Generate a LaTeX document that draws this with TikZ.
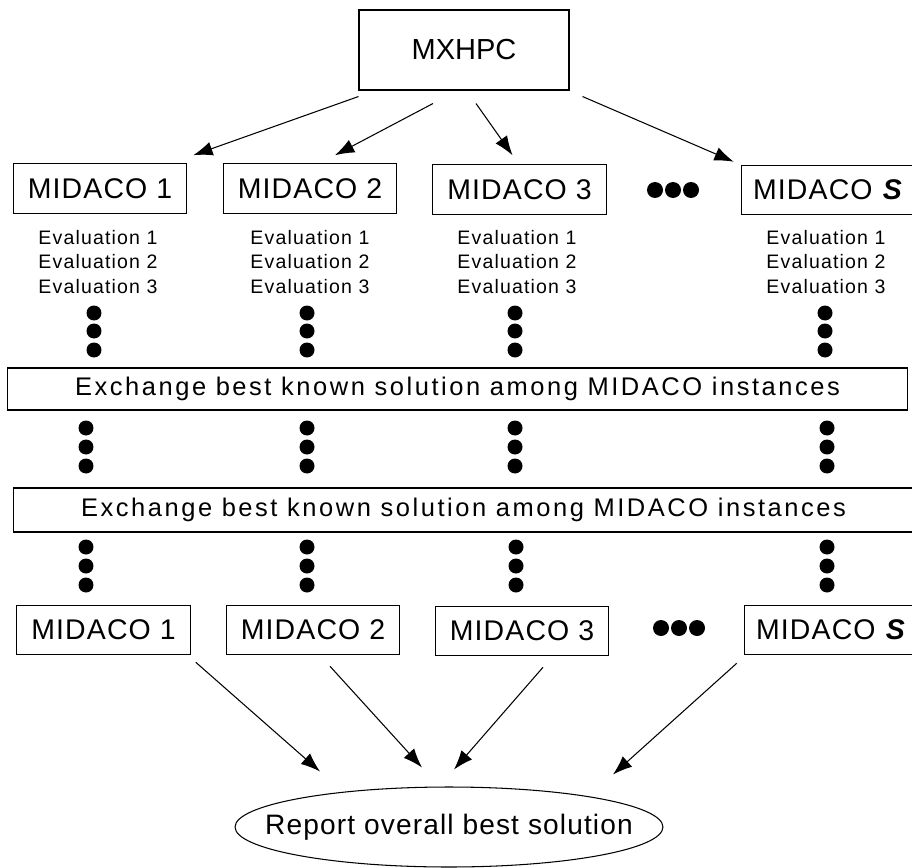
\documentclass[tikz,border=0pt]{standalone}
\usepackage{fontspec}
\setmainfont{Liberation Sans}
\newfontfamily\boxfont[LetterSpace=4]{Liberation Sans}
\newfontfamily\evalfont[LetterSpace=6]{Liberation Sans}
\newfontfamily\xchfont[LetterSpace=10]{Liberation Sans}
\usetikzlibrary{arrows.meta, calc, shapes.geometric}

\begin{document}
\begin{tikzpicture}[> = {Latex[length = 11pt, width = 8pt]}, x = 0.02cm, y = -0.02cm,
	box/.style = {draw, line width = 0.6pt, inner sep = 0pt, minimum width = 3.47cm, minimum height = 0.99cm, font = \boxfont\fontsize{16.2}{19}\selectfont},
	evaltext/.style = {align = center, inner sep = 0pt, font = \evalfont\fontsize{11.1}{13.9}\selectfont},
	xchbox/.style = {draw, line width = 0.6pt, inner sep = 0pt, minimum width = 18.02cm, font = \xchfont\fontsize{14.5}{17}\selectfont},
	arr/.style = {->, line width = 0.6pt}]

	\useasboundingbox (0, 0) rectangle (912, 868);

	% Master + instances

	\node (mxhpc) [box, minimum width = 4.2cm, minimum height = 1.6cm, font = \fontsize{16.5}{19}\selectfont] at (464, 50) {MXHPC};

	\node (m1) [box] at (100, 188.5) {MIDACO 1};
	\node (m2) [box] at (310, 188.5) {MIDACO 2};
	\node (m3) [box] at (519.5, 189.5) {MIDACO 3};
	\node (mS) [box] at (828, 190) {MIDACO \textbf{\textit{S}}};

	\foreach \x in {655, 673, 691}
		\fill (\x, 190) circle [radius = 0.16cm];

	\draw [arr] ($(mxhpc.south west) + (0, 6)$) -- ($(m1.north east) + (6, -8)$);
	\draw [arr] ($(mxhpc.south) + (-31, 13)$) -- ($(m2.north) + (25, -8)$);
	\draw [arr] ($(mxhpc.south) + (12, 13)$) -- ($(m3.north) + (-7, -9)$);
	\draw [arr] ($(mxhpc.south east) + (13, 6)$) -- ($(mS.north west) + (-7, -3)$);

	% Evaluations

	\foreach \x [count = \i] in {98, 310, 517, 826}
		\node (ev\i) [evaltext] at (\x, 262) {Evaluation 1\\Evaluation 2\\Evaluation 3};

	\foreach \x in {94, 307, 515, 825}
		\foreach \y in {313, 331, 350}
			\fill (\x, \y) circle [radius = 0.15cm];

	% Exchange steps

	\node (xch1) [xchbox, minimum height = 0.84cm] at (457.5, 389) {Exchange best known solution among MIDACO instances};

	\foreach \x in {86, 307, 515, 827}
		\foreach \y in {428, 447, 466}
			\fill (\x, \y) circle [radius = 0.15cm];

	\node (xch2) [xchbox, minimum height = 0.88cm] at (463.5, 510) {Exchange best known solution among MIDACO instances};

	\foreach \x in {86, 307, 516, 827}
		\foreach \y in {547, 566, 585}
			\fill (\x, \y) circle [radius = 0.15cm];

	% Final instances + report

	\node (b1) [box] at (103.5, 630) {MIDACO 1};
	\node (b2) [box] at (313, 630) {MIDACO 2};
	\node (b3) [box] at (522, 631) {MIDACO 3};
	\node (bS) [box] at (831, 630) {MIDACO \textbf{\textit{S}}};

	\foreach \x in {661, 679, 697}
		\fill (\x, 628) circle [radius = 0.16cm];

	\node (rep) [draw, ellipse, line width = 0.6pt, inner sep = 0pt, minimum width = 8.56cm, minimum height = 1.6cm] at (449, 827) {};
	\node (replabel) [inner sep = 0pt, font = \boxfont\fontsize{16}{19}\selectfont] at (rep) {Report overall best solution};

	\draw [arr] ($(b1.south east) + (5, 7)$) -- ($(rep.north) + (-129, -15)$);
	\draw [arr] ($(b2.south) + (17, 11)$) -- ($(rep.north) + (-27, -19)$);
	\draw [arr] ($(b3.south) + (21, 11)$) -- ($(rep.north) + (5, -17)$);
	\draw [arr] ($(bS.south west) + (-7, 8)$) -- ($(rep.north) + (164, -12)$);

\end{tikzpicture}
\end{document}
